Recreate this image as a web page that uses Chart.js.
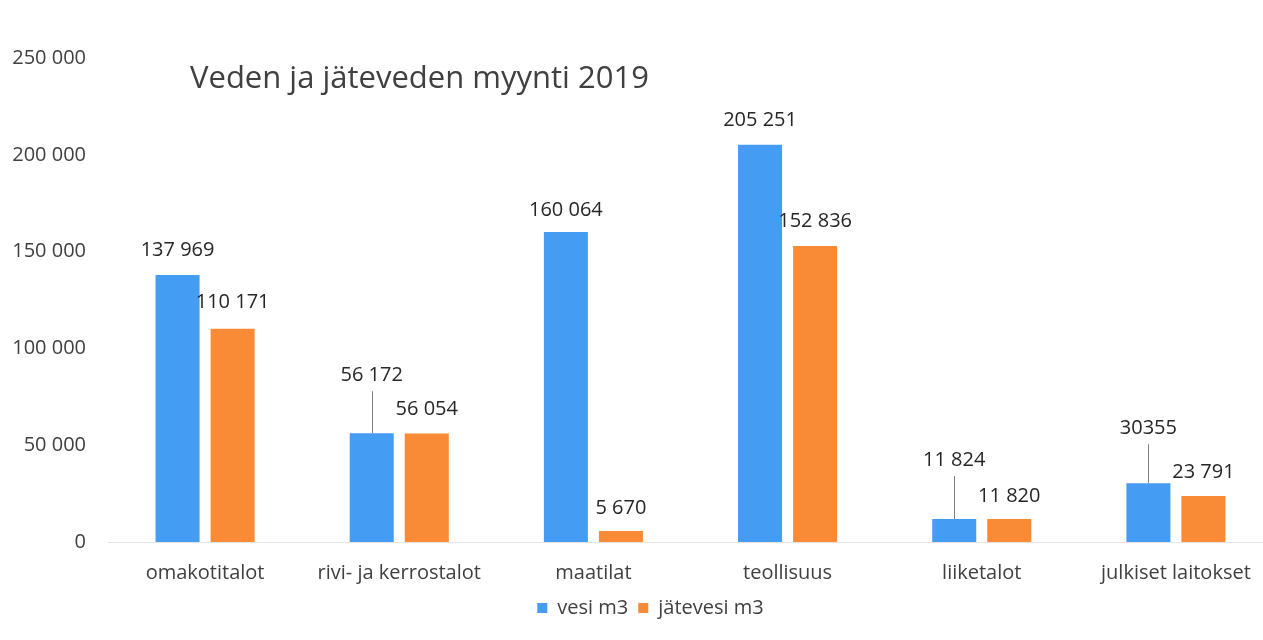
<!DOCTYPE html>
<html>
<head>
<meta charset="utf-8">
<script src="https://cdn.jsdelivr.net/npm/chart.js@4"></script>
<style>
  html, body { margin: 0; padding: 0; background: #fff; overflow: hidden; }
</style>
</head>
<body>
<canvas id="chart" width="1273" height="640"></canvas>
<script>
var categories = ['omakotitalot', 'rivi- ja kerrostalot', 'maatilat', 'teollisuus', 'liiketalot', 'julkiset laitokset'];
var vesi = [137969, 56172, 160064, 205251, 11824, 30355];
var jatevesi = [110171, 56054, 5670, 152836, 11820, 23791];
var vesiText = ['137 969', '56 172', '160 064', '205 251', '11 824', '30355'];
var jatevesiText = ['110 171', '56 054', '5 670', '152 836', '11 820', '23 791'];
var yTicks = ['0', '50 000', '100 000', '150 000', '200 000', '250 000'];
var seriesNames = ['vesi m3', 'jätevesi m3'];
var title = 'Veden ja jäteveden myynti 2019';

// how far each value label sits above its bar (px), and which ones get a leader line
var vesiLift = [25, 58, 22, 24, 59, 55];
var jatevesiLift = [26, 24, 23, 25, 23, 24];
var vesiLeader = [false, true, false, false, true, true];

var FONT = '"Open Sans", sans-serif';

var labelPlugin = {
  id: 'valueLabels',
  afterLayout: function (chart) {
    // legend sits a little right of the canvas centre in the original
    chart.legend.left += 14;
    chart.legend.right += 14;
  },
  afterDatasetsDraw: function (chart) {
    var ctx = chart.ctx;
    ctx.save();
    ctx.font = '20px ' + FONT;
    ctx.textAlign = 'center';
    ctx.textBaseline = 'middle';
    chart.data.datasets.forEach(function (ds, i) {
      chart.getDatasetMeta(i).data.forEach(function (bar, j) {
        var y = bar.y - ds.lift[j];
        if (ds.leader && ds.leader[j]) {
          ctx.strokeStyle = '#7f7f7f';
          ctx.lineWidth = 1;
          ctx.beginPath();
          ctx.moveTo(Math.round(bar.x) + 0.5, y + 16);
          ctx.lineTo(Math.round(bar.x) + 0.5, bar.y);
          ctx.stroke();
        }
        ctx.fillStyle = '#262626';
        ctx.fillText(ds.texts[j], bar.x, y);
      });
    });
    ctx.font = '31px ' + FONT;
    ctx.fillStyle = '#404040';
    ctx.textAlign = 'left';
    ctx.fillText(title, 190, 79);
    ctx.restore();
  }
};

new Chart(document.getElementById('chart'), {
  type: 'bar',
  data: {
    labels: categories,
    datasets: [{
      label: seriesNames[0],
      data: vesi,
      texts: vesiText,
      lift: vesiLift,
      leader: vesiLeader,
      backgroundColor: '#459df3'
    }, {
      label: seriesNames[1],
      data: jatevesi,
      texts: jatevesiText,
      lift: jatevesiLift,
      backgroundColor: '#f98b37'
    }]
  },
  options: {
    responsive: false,
    animation: false,
    devicePixelRatio: 1,
    categoryPercentage: 0.567,
    barPercentage: 0.8,
    layout: { padding: { left: 0, right: 0, top: 58, bottom: 12 } },
    plugins: {
      legend: {
        position: 'bottom',
        labels: {
          boxWidth: 10,
          boxHeight: 10,
          padding: 10,
          color: '#404040',
          font: { family: FONT, size: 20 }
        }
      },
      tooltip: { enabled: false }
    },
    scales: {
      x: {
        grid: { display: false, drawTicks: false },
        border: { display: true, color: '#e4e4e4' },
        ticks: { color: '#404040', padding: 19, font: { family: FONT, size: 20 } },
        afterFit: function (scale) { scale.height = 46; }
      },
      y: {
        min: 0,
        max: 250000,
        grid: { display: false, drawTicks: false },
        border: { display: false },
        ticks: {
          stepSize: 50000,
          color: '#404040',
          padding: 22,
          font: { family: FONT, size: 20 },
          callback: function (v) { return yTicks[Math.round(v / 50000)]; }
        },
        afterFit: function (scale) { scale.width = 108; }
      }
    }
  },
  plugins: [labelPlugin]
});
</script>
</body>
</html>
